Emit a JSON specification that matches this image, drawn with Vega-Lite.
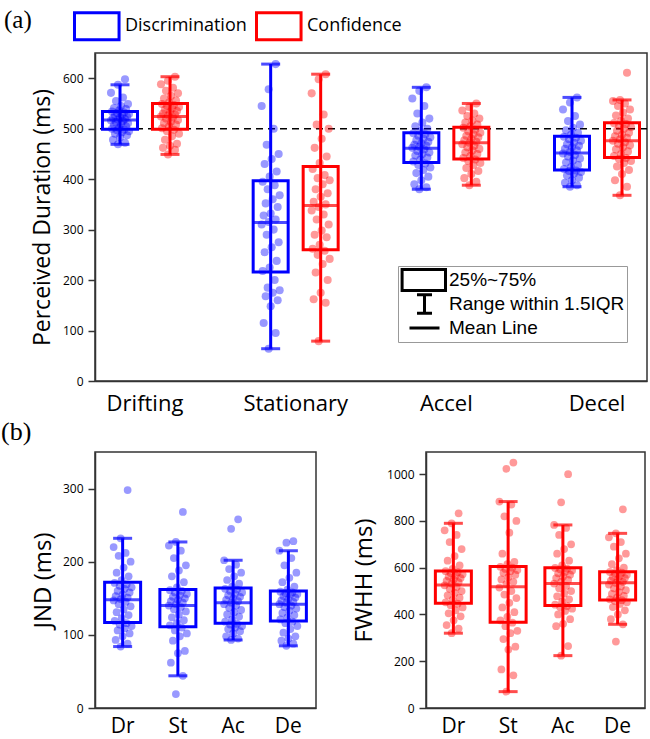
{
  "$schema": "https://vega.github.io/schema/vega-lite/v6.json",
  "background": "white",
  "padding": {"top": 10, "left": 0, "right": 0, "bottom": 0},
  "spacing": 3,
  "resolve": {"legend": {"stroke": "independent", "shape": "independent", "color": "independent"}},
  "config": {
    "view": {"stroke": "#333", "strokeWidth": 1.5},
    "axis": {"domainColor": "#333", "domainWidth": 1.5, "tickColor": "#333", "tickWidth": 1.5, "labelColor": "black", "titleColor": "black", "grid": false, "labelFont": "Open Sans", "titleFont": "Open Sans", "titleFontWeight": "normal", "labelOverlap": false},
    "axisX": {"ticks": false, "labelAngle": 0, "labelFontSize": 22, "title": null, "domain": true},
    "axisY": {"labelFontSize": 12, "labelPadding": 5},
    "title": {"font": "Liberation Serif", "fontWeight": "normal", "color": "black"}
  },
  "datasets": {
    "as": [
      {"c": "Drifting", "t": "Discrimination", "lo": 469, "q1": 499, "m": 517, "q3": 534, "hi": 587},
      {"c": "Drifting", "t": "Confidence", "lo": 449, "q1": 499, "m": 524, "q3": 550, "hi": 603},
      {"c": "Stationary", "t": "Discrimination", "lo": 64, "q1": 216, "m": 314, "q3": 397, "hi": 628},
      {"c": "Stationary", "t": "Confidence", "lo": 79, "q1": 260, "m": 348, "q3": 425, "hi": 608},
      {"c": "Accel", "t": "Discrimination", "lo": 380, "q1": 433, "m": 461, "q3": 492, "hi": 582},
      {"c": "Accel", "t": "Confidence", "lo": 388, "q1": 440, "m": 472, "q3": 503, "hi": 550},
      {"c": "Decel", "t": "Discrimination", "lo": 385, "q1": 418, "m": 452, "q3": 485, "hi": 562},
      {"c": "Decel", "t": "Confidence", "lo": 368, "q1": 443, "m": 476, "q3": 512, "hi": 557}
    ],
    "js": [
      {"c": "Dr", "lo": 84, "q1": 117, "m": 148, "q3": 172, "hi": 232},
      {"c": "St", "lo": 44, "q1": 111, "m": 140, "q3": 162, "hi": 227},
      {"c": "Ac", "lo": 93, "q1": 116, "m": 144, "q3": 164, "hi": 202},
      {"c": "De", "lo": 85, "q1": 119, "m": 142, "q3": 160, "hi": 215}
    ],
    "fs": [
      {"c": "Dr", "lo": 320, "q1": 448, "m": 526, "q3": 586, "hi": 790},
      {"c": "St", "lo": 70, "q1": 367, "m": 519, "q3": 605, "hi": 883},
      {"c": "Ac", "lo": 224, "q1": 438, "m": 533, "q3": 600, "hi": 783},
      {"c": "De", "lo": 358, "q1": 462, "m": 536, "q3": 583, "hi": 747}
    ],
    "leg": [{"k": "25%~75%"}, {"k": "Range within 1.5IQR"}, {"k": "Mean Line"}],
    "a": [
      {"c":"Drifting","t":"Discrimination","v":469},{"c":"Drifting","t":"Discrimination","v":472},{"c":"Drifting","t":"Discrimination","v":478},{"c":"Drifting","t":"Discrimination","v":483},{"c":"Drifting","t":"Discrimination","v":487},{"c":"Drifting","t":"Discrimination","v":490},{"c":"Drifting","t":"Discrimination","v":493},{"c":"Drifting","t":"Discrimination","v":495},{"c":"Drifting","t":"Discrimination","v":497},{"c":"Drifting","t":"Discrimination","v":498},
      {"c":"Drifting","t":"Discrimination","v":500},{"c":"Drifting","t":"Discrimination","v":502},{"c":"Drifting","t":"Discrimination","v":505},{"c":"Drifting","t":"Discrimination","v":507},{"c":"Drifting","t":"Discrimination","v":509},{"c":"Drifting","t":"Discrimination","v":511},{"c":"Drifting","t":"Discrimination","v":513},{"c":"Drifting","t":"Discrimination","v":515},{"c":"Drifting","t":"Discrimination","v":516},{"c":"Drifting","t":"Discrimination","v":518},
      {"c":"Drifting","t":"Discrimination","v":519},{"c":"Drifting","t":"Discrimination","v":521},{"c":"Drifting","t":"Discrimination","v":522},{"c":"Drifting","t":"Discrimination","v":524},{"c":"Drifting","t":"Discrimination","v":526},{"c":"Drifting","t":"Discrimination","v":527},{"c":"Drifting","t":"Discrimination","v":529},{"c":"Drifting","t":"Discrimination","v":531},{"c":"Drifting","t":"Discrimination","v":532},{"c":"Drifting","t":"Discrimination","v":534},
      {"c":"Drifting","t":"Discrimination","v":536},{"c":"Drifting","t":"Discrimination","v":539},{"c":"Drifting","t":"Discrimination","v":541},{"c":"Drifting","t":"Discrimination","v":545},{"c":"Drifting","t":"Discrimination","v":549},{"c":"Drifting","t":"Discrimination","v":555},{"c":"Drifting","t":"Discrimination","v":562},{"c":"Drifting","t":"Discrimination","v":571},{"c":"Drifting","t":"Discrimination","v":587},{"c":"Drifting","t":"Discrimination","v":598},
      {"c":"Drifting","t":"Confidence","v":449},{"c":"Drifting","t":"Confidence","v":458},{"c":"Drifting","t":"Confidence","v":462},{"c":"Drifting","t":"Confidence","v":466},{"c":"Drifting","t":"Confidence","v":470},{"c":"Drifting","t":"Confidence","v":478},{"c":"Drifting","t":"Confidence","v":485},{"c":"Drifting","t":"Confidence","v":490},{"c":"Drifting","t":"Confidence","v":495},{"c":"Drifting","t":"Confidence","v":498},
      {"c":"Drifting","t":"Confidence","v":501},{"c":"Drifting","t":"Confidence","v":505},{"c":"Drifting","t":"Confidence","v":508},{"c":"Drifting","t":"Confidence","v":511},{"c":"Drifting","t":"Confidence","v":514},{"c":"Drifting","t":"Confidence","v":517},{"c":"Drifting","t":"Confidence","v":520},{"c":"Drifting","t":"Confidence","v":522},{"c":"Drifting","t":"Confidence","v":524},{"c":"Drifting","t":"Confidence","v":526},
      {"c":"Drifting","t":"Confidence","v":528},{"c":"Drifting","t":"Confidence","v":530},{"c":"Drifting","t":"Confidence","v":533},{"c":"Drifting","t":"Confidence","v":535},{"c":"Drifting","t":"Confidence","v":538},{"c":"Drifting","t":"Confidence","v":540},{"c":"Drifting","t":"Confidence","v":543},{"c":"Drifting","t":"Confidence","v":545},{"c":"Drifting","t":"Confidence","v":547},{"c":"Drifting","t":"Confidence","v":549},
      {"c":"Drifting","t":"Confidence","v":552},{"c":"Drifting","t":"Confidence","v":556},{"c":"Drifting","t":"Confidence","v":560},{"c":"Drifting","t":"Confidence","v":565},{"c":"Drifting","t":"Confidence","v":570},{"c":"Drifting","t":"Confidence","v":575},{"c":"Drifting","t":"Confidence","v":581},{"c":"Drifting","t":"Confidence","v":588},{"c":"Drifting","t":"Confidence","v":595},{"c":"Drifting","t":"Confidence","v":603},
      {"c":"Stationary","t":"Discrimination","v":64},{"c":"Stationary","t":"Discrimination","v":95},{"c":"Stationary","t":"Discrimination","v":115},{"c":"Stationary","t":"Discrimination","v":148},{"c":"Stationary","t":"Discrimination","v":160},{"c":"Stationary","t":"Discrimination","v":168},{"c":"Stationary","t":"Discrimination","v":175},{"c":"Stationary","t":"Discrimination","v":180},{"c":"Stationary","t":"Discrimination","v":185},{"c":"Stationary","t":"Discrimination","v":200},
      {"c":"Stationary","t":"Discrimination","v":218},{"c":"Stationary","t":"Discrimination","v":225},{"c":"Stationary","t":"Discrimination","v":238},{"c":"Stationary","t":"Discrimination","v":255},{"c":"Stationary","t":"Discrimination","v":265},{"c":"Stationary","t":"Discrimination","v":275},{"c":"Stationary","t":"Discrimination","v":290},{"c":"Stationary","t":"Discrimination","v":300},{"c":"Stationary","t":"Discrimination","v":310},{"c":"Stationary","t":"Discrimination","v":315},
      {"c":"Stationary","t":"Discrimination","v":320},{"c":"Stationary","t":"Discrimination","v":328},{"c":"Stationary","t":"Discrimination","v":332},{"c":"Stationary","t":"Discrimination","v":345},{"c":"Stationary","t":"Discrimination","v":352},{"c":"Stationary","t":"Discrimination","v":360},{"c":"Stationary","t":"Discrimination","v":368},{"c":"Stationary","t":"Discrimination","v":380},{"c":"Stationary","t":"Discrimination","v":388},{"c":"Stationary","t":"Discrimination","v":395},
      {"c":"Stationary","t":"Discrimination","v":405},{"c":"Stationary","t":"Discrimination","v":415},{"c":"Stationary","t":"Discrimination","v":430},{"c":"Stationary","t":"Discrimination","v":440},{"c":"Stationary","t":"Discrimination","v":450},{"c":"Stationary","t":"Discrimination","v":468},{"c":"Stationary","t":"Discrimination","v":500},{"c":"Stationary","t":"Discrimination","v":545},{"c":"Stationary","t":"Discrimination","v":578},{"c":"Stationary","t":"Discrimination","v":628},
      {"c":"Stationary","t":"Confidence","v":79},{"c":"Stationary","t":"Confidence","v":155},{"c":"Stationary","t":"Confidence","v":162},{"c":"Stationary","t":"Confidence","v":175},{"c":"Stationary","t":"Confidence","v":200},{"c":"Stationary","t":"Confidence","v":215},{"c":"Stationary","t":"Confidence","v":232},{"c":"Stationary","t":"Confidence","v":242},{"c":"Stationary","t":"Confidence","v":250},{"c":"Stationary","t":"Confidence","v":258},
      {"c":"Stationary","t":"Confidence","v":262},{"c":"Stationary","t":"Confidence","v":270},{"c":"Stationary","t":"Confidence","v":285},{"c":"Stationary","t":"Confidence","v":290},{"c":"Stationary","t":"Confidence","v":298},{"c":"Stationary","t":"Confidence","v":310},{"c":"Stationary","t":"Confidence","v":320},{"c":"Stationary","t":"Confidence","v":330},{"c":"Stationary","t":"Confidence","v":338},{"c":"Stationary","t":"Confidence","v":345},
      {"c":"Stationary","t":"Confidence","v":350},{"c":"Stationary","t":"Confidence","v":355},{"c":"Stationary","t":"Confidence","v":365},{"c":"Stationary","t":"Confidence","v":372},{"c":"Stationary","t":"Confidence","v":380},{"c":"Stationary","t":"Confidence","v":390},{"c":"Stationary","t":"Confidence","v":398},{"c":"Stationary","t":"Confidence","v":402},{"c":"Stationary","t":"Confidence","v":408},{"c":"Stationary","t":"Confidence","v":420},
      {"c":"Stationary","t":"Confidence","v":432},{"c":"Stationary","t":"Confidence","v":445},{"c":"Stationary","t":"Confidence","v":462},{"c":"Stationary","t":"Confidence","v":480},{"c":"Stationary","t":"Confidence","v":500},{"c":"Stationary","t":"Confidence","v":508},{"c":"Stationary","t":"Confidence","v":528},{"c":"Stationary","t":"Confidence","v":570},{"c":"Stationary","t":"Confidence","v":598},{"c":"Stationary","t":"Confidence","v":608},
      {"c":"Accel","t":"Discrimination","v":380},{"c":"Accel","t":"Discrimination","v":384},{"c":"Accel","t":"Discrimination","v":390},{"c":"Accel","t":"Discrimination","v":398},{"c":"Accel","t":"Discrimination","v":405},{"c":"Accel","t":"Discrimination","v":412},{"c":"Accel","t":"Discrimination","v":418},{"c":"Accel","t":"Discrimination","v":423},{"c":"Accel","t":"Discrimination","v":428},{"c":"Accel","t":"Discrimination","v":431},
      {"c":"Accel","t":"Discrimination","v":435},{"c":"Accel","t":"Discrimination","v":439},{"c":"Accel","t":"Discrimination","v":443},{"c":"Accel","t":"Discrimination","v":447},{"c":"Accel","t":"Discrimination","v":450},{"c":"Accel","t":"Discrimination","v":453},{"c":"Accel","t":"Discrimination","v":456},{"c":"Accel","t":"Discrimination","v":459},{"c":"Accel","t":"Discrimination","v":462},{"c":"Accel","t":"Discrimination","v":464},
      {"c":"Accel","t":"Discrimination","v":466},{"c":"Accel","t":"Discrimination","v":468},{"c":"Accel","t":"Discrimination","v":471},{"c":"Accel","t":"Discrimination","v":474},{"c":"Accel","t":"Discrimination","v":477},{"c":"Accel","t":"Discrimination","v":480},{"c":"Accel","t":"Discrimination","v":483},{"c":"Accel","t":"Discrimination","v":486},{"c":"Accel","t":"Discrimination","v":489},{"c":"Accel","t":"Discrimination","v":491},
      {"c":"Accel","t":"Discrimination","v":495},{"c":"Accel","t":"Discrimination","v":500},{"c":"Accel","t":"Discrimination","v":505},{"c":"Accel","t":"Discrimination","v":512},{"c":"Accel","t":"Discrimination","v":520},{"c":"Accel","t":"Discrimination","v":530},{"c":"Accel","t":"Discrimination","v":545},{"c":"Accel","t":"Discrimination","v":560},{"c":"Accel","t":"Discrimination","v":575},{"c":"Accel","t":"Discrimination","v":582},
      {"c":"Accel","t":"Confidence","v":388},{"c":"Accel","t":"Confidence","v":395},{"c":"Accel","t":"Confidence","v":402},{"c":"Accel","t":"Confidence","v":410},{"c":"Accel","t":"Confidence","v":416},{"c":"Accel","t":"Confidence","v":422},{"c":"Accel","t":"Confidence","v":428},{"c":"Accel","t":"Confidence","v":432},{"c":"Accel","t":"Confidence","v":436},{"c":"Accel","t":"Confidence","v":439},
      {"c":"Accel","t":"Confidence","v":442},{"c":"Accel","t":"Confidence","v":446},{"c":"Accel","t":"Confidence","v":450},{"c":"Accel","t":"Confidence","v":453},{"c":"Accel","t":"Confidence","v":457},{"c":"Accel","t":"Confidence","v":460},{"c":"Accel","t":"Confidence","v":463},{"c":"Accel","t":"Confidence","v":466},{"c":"Accel","t":"Confidence","v":469},{"c":"Accel","t":"Confidence","v":472},
      {"c":"Accel","t":"Confidence","v":474},{"c":"Accel","t":"Confidence","v":477},{"c":"Accel","t":"Confidence","v":480},{"c":"Accel","t":"Confidence","v":483},{"c":"Accel","t":"Confidence","v":486},{"c":"Accel","t":"Confidence","v":489},{"c":"Accel","t":"Confidence","v":492},{"c":"Accel","t":"Confidence","v":495},{"c":"Accel","t":"Confidence","v":498},{"c":"Accel","t":"Confidence","v":502},
      {"c":"Accel","t":"Confidence","v":505},{"c":"Accel","t":"Confidence","v":508},{"c":"Accel","t":"Confidence","v":512},{"c":"Accel","t":"Confidence","v":516},{"c":"Accel","t":"Confidence","v":520},{"c":"Accel","t":"Confidence","v":525},{"c":"Accel","t":"Confidence","v":530},{"c":"Accel","t":"Confidence","v":536},{"c":"Accel","t":"Confidence","v":543},{"c":"Accel","t":"Confidence","v":550},
      {"c":"Decel","t":"Discrimination","v":385},{"c":"Decel","t":"Discrimination","v":388},{"c":"Decel","t":"Discrimination","v":393},{"c":"Decel","t":"Discrimination","v":398},{"c":"Decel","t":"Discrimination","v":403},{"c":"Decel","t":"Discrimination","v":407},{"c":"Decel","t":"Discrimination","v":411},{"c":"Decel","t":"Discrimination","v":414},{"c":"Decel","t":"Discrimination","v":416},{"c":"Decel","t":"Discrimination","v":417},
      {"c":"Decel","t":"Discrimination","v":420},{"c":"Decel","t":"Discrimination","v":424},{"c":"Decel","t":"Discrimination","v":428},{"c":"Decel","t":"Discrimination","v":433},{"c":"Decel","t":"Discrimination","v":437},{"c":"Decel","t":"Discrimination","v":441},{"c":"Decel","t":"Discrimination","v":445},{"c":"Decel","t":"Discrimination","v":448},{"c":"Decel","t":"Discrimination","v":451},{"c":"Decel","t":"Discrimination","v":454},
      {"c":"Decel","t":"Discrimination","v":457},{"c":"Decel","t":"Discrimination","v":460},{"c":"Decel","t":"Discrimination","v":463},{"c":"Decel","t":"Discrimination","v":466},{"c":"Decel","t":"Discrimination","v":469},{"c":"Decel","t":"Discrimination","v":472},{"c":"Decel","t":"Discrimination","v":476},{"c":"Decel","t":"Discrimination","v":479},{"c":"Decel","t":"Discrimination","v":482},{"c":"Decel","t":"Discrimination","v":484},
      {"c":"Decel","t":"Discrimination","v":488},{"c":"Decel","t":"Discrimination","v":492},{"c":"Decel","t":"Discrimination","v":497},{"c":"Decel","t":"Discrimination","v":502},{"c":"Decel","t":"Discrimination","v":508},{"c":"Decel","t":"Discrimination","v":515},{"c":"Decel","t":"Discrimination","v":525},{"c":"Decel","t":"Discrimination","v":538},{"c":"Decel","t":"Discrimination","v":552},{"c":"Decel","t":"Discrimination","v":562},
      {"c":"Decel","t":"Confidence","v":368},{"c":"Decel","t":"Confidence","v":385},{"c":"Decel","t":"Confidence","v":398},{"c":"Decel","t":"Confidence","v":410},{"c":"Decel","t":"Confidence","v":418},{"c":"Decel","t":"Confidence","v":425},{"c":"Decel","t":"Confidence","v":432},{"c":"Decel","t":"Confidence","v":436},{"c":"Decel","t":"Confidence","v":440},{"c":"Decel","t":"Confidence","v":442},
      {"c":"Decel","t":"Confidence","v":446},{"c":"Decel","t":"Confidence","v":450},{"c":"Decel","t":"Confidence","v":455},{"c":"Decel","t":"Confidence","v":459},{"c":"Decel","t":"Confidence","v":463},{"c":"Decel","t":"Confidence","v":467},{"c":"Decel","t":"Confidence","v":470},{"c":"Decel","t":"Confidence","v":473},{"c":"Decel","t":"Confidence","v":476},{"c":"Decel","t":"Confidence","v":479},
      {"c":"Decel","t":"Confidence","v":482},{"c":"Decel","t":"Confidence","v":485},{"c":"Decel","t":"Confidence","v":488},{"c":"Decel","t":"Confidence","v":492},{"c":"Decel","t":"Confidence","v":496},{"c":"Decel","t":"Confidence","v":500},{"c":"Decel","t":"Confidence","v":503},{"c":"Decel","t":"Confidence","v":506},{"c":"Decel","t":"Confidence","v":509},{"c":"Decel","t":"Confidence","v":511},
      {"c":"Decel","t":"Confidence","v":515},{"c":"Decel","t":"Confidence","v":520},{"c":"Decel","t":"Confidence","v":526},{"c":"Decel","t":"Confidence","v":532},{"c":"Decel","t":"Confidence","v":538},{"c":"Decel","t":"Confidence","v":545},{"c":"Decel","t":"Confidence","v":550},{"c":"Decel","t":"Confidence","v":555},{"c":"Decel","t":"Confidence","v":557},{"c":"Decel","t":"Confidence","v":611}
    ],
    "j": [
      {"c":"Dr","v":84},{"c":"Dr","v":88},{"c":"Dr","v":93},{"c":"Dr","v":98},{"c":"Dr","v":102},{"c":"Dr","v":106},{"c":"Dr","v":109},{"c":"Dr","v":112},{"c":"Dr","v":114},{"c":"Dr","v":116},
      {"c":"Dr","v":119},{"c":"Dr","v":123},{"c":"Dr","v":127},{"c":"Dr","v":131},{"c":"Dr","v":135},{"c":"Dr","v":139},{"c":"Dr","v":142},{"c":"Dr","v":145},{"c":"Dr","v":147},{"c":"Dr","v":149},
      {"c":"Dr","v":151},{"c":"Dr","v":153},{"c":"Dr","v":155},{"c":"Dr","v":158},{"c":"Dr","v":160},{"c":"Dr","v":163},{"c":"Dr","v":165},{"c":"Dr","v":167},{"c":"Dr","v":169},{"c":"Dr","v":171},
      {"c":"Dr","v":175},{"c":"Dr","v":180},{"c":"Dr","v":185},{"c":"Dr","v":192},{"c":"Dr","v":200},{"c":"Dr","v":208},{"c":"Dr","v":212},{"c":"Dr","v":220},{"c":"Dr","v":232},{"c":"Dr","v":298},
      {"c":"St","v":19},{"c":"St","v":44},{"c":"St","v":62},{"c":"St","v":75},{"c":"St","v":78},{"c":"St","v":92},{"c":"St","v":98},{"c":"St","v":102},{"c":"St","v":106},{"c":"St","v":110},
      {"c":"St","v":113},{"c":"St","v":116},{"c":"St","v":120},{"c":"St","v":124},{"c":"St","v":128},{"c":"St","v":132},{"c":"St","v":135},{"c":"St","v":138},{"c":"St","v":140},{"c":"St","v":142},
      {"c":"St","v":144},{"c":"St","v":146},{"c":"St","v":148},{"c":"St","v":150},{"c":"St","v":152},{"c":"St","v":154},{"c":"St","v":156},{"c":"St","v":158},{"c":"St","v":160},{"c":"St","v":161},
      {"c":"St","v":165},{"c":"St","v":172},{"c":"St","v":180},{"c":"St","v":188},{"c":"St","v":195},{"c":"St","v":205},{"c":"St","v":215},{"c":"St","v":222},{"c":"St","v":227},{"c":"St","v":268},
      {"c":"Ac","v":93},{"c":"Ac","v":95},{"c":"Ac","v":98},{"c":"Ac","v":102},{"c":"Ac","v":105},{"c":"Ac","v":108},{"c":"Ac","v":110},{"c":"Ac","v":112},{"c":"Ac","v":114},{"c":"Ac","v":115},
      {"c":"Ac","v":118},{"c":"Ac","v":121},{"c":"Ac","v":125},{"c":"Ac","v":128},{"c":"Ac","v":131},{"c":"Ac","v":134},{"c":"Ac","v":137},{"c":"Ac","v":140},{"c":"Ac","v":142},{"c":"Ac","v":144},
      {"c":"Ac","v":146},{"c":"Ac","v":148},{"c":"Ac","v":150},{"c":"Ac","v":152},{"c":"Ac","v":154},{"c":"Ac","v":156},{"c":"Ac","v":158},{"c":"Ac","v":160},{"c":"Ac","v":162},{"c":"Ac","v":163},
      {"c":"Ac","v":166},{"c":"Ac","v":170},{"c":"Ac","v":175},{"c":"Ac","v":180},{"c":"Ac","v":185},{"c":"Ac","v":190},{"c":"Ac","v":196},{"c":"Ac","v":202},{"c":"Ac","v":245},{"c":"Ac","v":258},
      {"c":"De","v":85},{"c":"De","v":88},{"c":"De","v":92},{"c":"De","v":95},{"c":"De","v":98},{"c":"De","v":103},{"c":"De","v":108},{"c":"De","v":112},{"c":"De","v":116},{"c":"De","v":118},
      {"c":"De","v":121},{"c":"De","v":124},{"c":"De","v":127},{"c":"De","v":130},{"c":"De","v":133},{"c":"De","v":136},{"c":"De","v":138},{"c":"De","v":140},{"c":"De","v":142},{"c":"De","v":144},
      {"c":"De","v":145},{"c":"De","v":147},{"c":"De","v":149},{"c":"De","v":151},{"c":"De","v":153},{"c":"De","v":155},{"c":"De","v":156},{"c":"De","v":157},{"c":"De","v":158},{"c":"De","v":159},
      {"c":"De","v":162},{"c":"De","v":166},{"c":"De","v":172},{"c":"De","v":178},{"c":"De","v":185},{"c":"De","v":195},{"c":"De","v":205},{"c":"De","v":215},{"c":"De","v":226},{"c":"De","v":228}
    ],
    "f": [
      {"c":"Dr","v":320},{"c":"Dr","v":340},{"c":"Dr","v":355},{"c":"Dr","v":375},{"c":"Dr","v":392},{"c":"Dr","v":405},{"c":"Dr","v":418},{"c":"Dr","v":430},{"c":"Dr","v":440},{"c":"Dr","v":446},
      {"c":"Dr","v":452},{"c":"Dr","v":462},{"c":"Dr","v":472},{"c":"Dr","v":482},{"c":"Dr","v":492},{"c":"Dr","v":500},{"c":"Dr","v":510},{"c":"Dr","v":518},{"c":"Dr","v":525},{"c":"Dr","v":532},
      {"c":"Dr","v":538},{"c":"Dr","v":544},{"c":"Dr","v":550},{"c":"Dr","v":556},{"c":"Dr","v":562},{"c":"Dr","v":567},{"c":"Dr","v":572},{"c":"Dr","v":577},{"c":"Dr","v":581},{"c":"Dr","v":585},
      {"c":"Dr","v":595},{"c":"Dr","v":610},{"c":"Dr","v":630},{"c":"Dr","v":650},{"c":"Dr","v":680},{"c":"Dr","v":710},{"c":"Dr","v":740},{"c":"Dr","v":760},{"c":"Dr","v":790},{"c":"Dr","v":833},
      {"c":"St","v":70},{"c":"St","v":140},{"c":"St","v":165},{"c":"St","v":250},{"c":"St","v":262},{"c":"St","v":295},{"c":"St","v":320},{"c":"St","v":330},{"c":"St","v":350},{"c":"St","v":365},
      {"c":"St","v":375},{"c":"St","v":390},{"c":"St","v":410},{"c":"St","v":430},{"c":"St","v":450},{"c":"St","v":470},{"c":"St","v":485},{"c":"St","v":500},{"c":"St","v":515},{"c":"St","v":530},
      {"c":"St","v":540},{"c":"St","v":550},{"c":"St","v":560},{"c":"St","v":570},{"c":"St","v":578},{"c":"St","v":585},{"c":"St","v":590},{"c":"St","v":595},{"c":"St","v":600},{"c":"St","v":604},
      {"c":"St","v":615},{"c":"St","v":625},{"c":"St","v":660},{"c":"St","v":750},{"c":"St","v":800},{"c":"St","v":820},{"c":"St","v":870},{"c":"St","v":883},{"c":"St","v":1023},{"c":"St","v":1050},
      {"c":"Ac","v":224},{"c":"Ac","v":265},{"c":"Ac","v":350},{"c":"Ac","v":360},{"c":"Ac","v":380},{"c":"Ac","v":400},{"c":"Ac","v":415},{"c":"Ac","v":425},{"c":"Ac","v":432},{"c":"Ac","v":436},
      {"c":"Ac","v":442},{"c":"Ac","v":455},{"c":"Ac","v":465},{"c":"Ac","v":478},{"c":"Ac","v":490},{"c":"Ac","v":500},{"c":"Ac","v":512},{"c":"Ac","v":522},{"c":"Ac","v":532},{"c":"Ac","v":540},
      {"c":"Ac","v":548},{"c":"Ac","v":556},{"c":"Ac","v":563},{"c":"Ac","v":570},{"c":"Ac","v":576},{"c":"Ac","v":582},{"c":"Ac","v":588},{"c":"Ac","v":593},{"c":"Ac","v":596},{"c":"Ac","v":599},
      {"c":"Ac","v":610},{"c":"Ac","v":630},{"c":"Ac","v":660},{"c":"Ac","v":680},{"c":"Ac","v":700},{"c":"Ac","v":740},{"c":"Ac","v":770},{"c":"Ac","v":783},{"c":"Ac","v":880},{"c":"Ac","v":1000},
      {"c":"De","v":284},{"c":"De","v":358},{"c":"De","v":380},{"c":"De","v":400},{"c":"De","v":418},{"c":"De","v":432},{"c":"De","v":445},{"c":"De","v":452},{"c":"De","v":458},{"c":"De","v":461},
      {"c":"De","v":465},{"c":"De","v":472},{"c":"De","v":480},{"c":"De","v":488},{"c":"De","v":496},{"c":"De","v":504},{"c":"De","v":512},{"c":"De","v":520},{"c":"De","v":528},{"c":"De","v":535},
      {"c":"De","v":540},{"c":"De","v":545},{"c":"De","v":550},{"c":"De","v":555},{"c":"De","v":560},{"c":"De","v":565},{"c":"De","v":570},{"c":"De","v":575},{"c":"De","v":579},{"c":"De","v":582},
      {"c":"De","v":590},{"c":"De","v":600},{"c":"De","v":615},{"c":"De","v":640},{"c":"De","v":660},{"c":"De","v":690},{"c":"De","v":710},{"c":"De","v":730},{"c":"De","v":747},{"c":"De","v":850}
    ]
  },
  "vconcat": [
    {
      "width": 552,
      "height": 328,
      "layer": [
        {
          "data": {"values": [{"ref": 500}]},
          "mark": {"type": "rule", "strokeDash": [7, 5], "strokeWidth": 1.5, "color": "black"},
          "encoding": {"y": {"field": "ref", "type": "quantitative", "title": "Perceived Duration (ms)"}}
        },
        {
          "data": {"name": "a"},
          "transform": [
            {"window": [{"op": "row_number", "as": "r"}], "groupby": ["c", "t"]},
            {"calculate": "(datum.t === 'Discrimination' ? -25 : 25) + ((datum.r * 7) % 19) - 9", "as": "off"}
          ],
          "mark": {"type": "circle", "size": 65, "opacity": 0.4},
          "encoding": {
            "x": {"field": "c", "type": "nominal", "sort": ["Drifting", "Stationary", "Accel", "Decel"], "scale": {"domain": ["Drifting", "Stationary", "Accel", "Decel"], "paddingInner": 0.3363, "paddingOuter": 0}, "axis": {"labelPadding": 12}},
            "xOffset": {"field": "off", "type": "quantitative", "scale": {"domain": [-50, 50], "range": [0, 100]}},
            "y": {"field": "v", "type": "quantitative", "title": "Perceived Duration (ms)", "scale": {"domain": [0, 650], "nice": false}, "axis": {"values": [0, 50, 100, 150, 200, 250, 300, 350, 400, 450, 500, 550, 600], "labelExpr": "datum.value % 100 === 0 ? datum.label : ''", "tickSize": {"condition": {"test": "datum.value % 100 === 0", "value": 7}, "value": 4}, "titleFontSize": 23, "titlePadding": 8}},
            "color": {"field": "t", "type": "nominal", "scale": {"domain": ["Confidence", "Discrimination"], "range": ["#ff0000", "#0000ff"]}, "legend": null}
          }
        },
        {
          "data": {"name": "as"},
          "mark": {"type": "bar", "filled": false, "strokeWidth": 3, "width": 35},
          "encoding": {
            "x": {"field": "c", "type": "nominal"},
            "xOffset": {"field": "t", "type": "nominal", "scale": {"domain": ["Discrimination", "Confidence"], "paddingInner": 0, "paddingOuter": 0}},
            "y": {"field": "q1", "type": "quantitative", "title": "Perceived Duration (ms)"},
            "y2": {"field": "q3"},
            "stroke": {"field": "t", "type": "nominal", "scale": {"domain": ["Discrimination", "Confidence"], "range": ["#0000ff", "#ff0000"]},
              "legend": {"title": "(a)", "titleOrient": "left", "titleAnchor": "middle", "titleBaseline": "alphabetic", "titleFont": "Liberation Serif", "titleFontSize": 25, "titleFontWeight": "normal", "titleColor": "black", "titlePadding": 41,
                "orient": "none", "legendX": -91, "legendY": -42, "direction": "horizontal", "padding": 0,
                "symbolType": "M-1,-1H2.3V1H-1Z", "symbolSize": 729, "symbolStrokeWidth": 3, "symbolFillColor": "transparent",
                "labelFont": "Open Sans", "labelFontSize": 18, "labelOffset": 22, "columnPadding": 3, "labelLimit": 300,
                "encode": {"labels": {"fill": {"condition": {"test": "datum.label === 'Discrimination'", "value": "#0000ff"}, "value": "#ff0000"}}, "symbols": {"fill": {"value": "transparent"}, "strokeWidth": {"value": 3}}}}}
          }
        },
        {
          "data": {"name": "as"},
          "mark": {"type": "rule", "strokeWidth": 3},
          "encoding": {
            "x": {"field": "c", "type": "nominal"},
            "xOffset": {"field": "t", "type": "nominal", "scale": {"domain": ["Discrimination", "Confidence"], "paddingInner": 0, "paddingOuter": 0}},
            "y": {"field": "lo", "type": "quantitative", "title": "Perceived Duration (ms)"},
            "y2": {"field": "hi"},
            "color": {"field": "t", "type": "nominal", "legend": null}
          }
        },
        {
          "data": {"name": "as"},
          "mark": {"type": "tick", "thickness": 3, "size": 19},
          "encoding": {
            "x": {"field": "c", "type": "nominal"},
            "xOffset": {"field": "t", "type": "nominal", "scale": {"domain": ["Discrimination", "Confidence"], "paddingInner": 0, "paddingOuter": 0}},
            "y": {"field": "lo", "type": "quantitative", "title": "Perceived Duration (ms)"},
            "color": {"field": "t", "type": "nominal", "legend": null}
          }
        },
        {
          "data": {"name": "as"},
          "mark": {"type": "tick", "thickness": 3, "size": 19},
          "encoding": {
            "x": {"field": "c", "type": "nominal"},
            "xOffset": {"field": "t", "type": "nominal", "scale": {"domain": ["Discrimination", "Confidence"], "paddingInner": 0, "paddingOuter": 0}},
            "y": {"field": "hi", "type": "quantitative", "title": "Perceived Duration (ms)"},
            "color": {"field": "t", "type": "nominal", "legend": null}
          }
        },
        {
          "data": {"name": "as"},
          "mark": {"type": "tick", "thickness": 3, "size": 35},
          "encoding": {
            "x": {"field": "c", "type": "nominal"},
            "xOffset": {"field": "t", "type": "nominal", "scale": {"domain": ["Discrimination", "Confidence"], "paddingInner": 0, "paddingOuter": 0}},
            "y": {"field": "m", "type": "quantitative", "title": "Perceived Duration (ms)"},
            "color": {"field": "t", "type": "nominal", "legend": null}
          }
        },
        {
          "data": {"name": "leg"},
          "mark": {"type": "point", "filled": false, "opacity": 0},
          "encoding": {
            "shape": {"field": "k", "type": "nominal", "scale": {"domain": ["25%~75%", "Range within 1.5IQR", "Mean Line"], "range": ["M-0.925,-1.31H4.5V1.31H-0.925Z", "M0.94,-1.16H2.81M1.875,-1.16V1.16M0.94,1.16H2.81", "M0,0H3.75"]},
              "legend": {"title": null, "orient": "none", "legendX": 303, "legendY": 213, "direction": "vertical", "padding": 2,
                "strokeColor": "#999", "symbolSize": 256, "symbolStrokeColor": "black", "symbolStrokeWidth": 3, "symbolOpacity": 1, "symbolFillColor": "transparent",
                "labelFont": "Liberation Sans", "labelFontSize": 19, "labelOffset": 30, "rowPadding": 0, "clipHeight": 24, "labelLimit": 300, "labelColor": "black",
                "encode": {"symbols": {"opacity": {"value": 1}, "stroke": {"value": "black"}, "fill": {"value": "transparent"}, "strokeWidth": {"value": 3}}}}}
          }
        }
      ],
      "resolve": {"scale": {"xOffset": "independent"}}
    },
    {
      "hconcat": [
        {
          "width": 221,
          "height": 256,
          "title": {"text": "(b)", "fontSize": 26, "anchor": "start", "frame": "group", "dx": -94, "offset": 7},
          "layer": [
            {
              "data": {"name": "j"},
              "transform": [
                {"window": [{"op": "row_number", "as": "r"}], "groupby": ["c"]},
                {"calculate": "((datum.r * 7) % 19) - 9", "as": "off"}
              ],
              "mark": {"type": "circle", "size": 60, "opacity": 0.4, "color": "#0000ff"},
              "encoding": {
                "x": {"field": "c", "type": "nominal", "scale": {"domain": ["Dr", "St", "Ac", "De"], "paddingInner": 0, "paddingOuter": 0}, "axis": {"labelPadding": 7, "labelFontSize": 21}},
                "xOffset": {"field": "off", "type": "quantitative", "scale": {"domain": [-27.625, 27.625], "range": [0, 55.25]}},
                "y": {"field": "v", "type": "quantitative", "title": "JND (ms)", "scale": {"domain": [0, 350], "nice": false}, "axis": {"values": [0, 25, 50, 75, 100, 125, 150, 175, 200, 225, 250, 275, 300, 325, 350], "labelExpr": "datum.value % 50 === 0 ? datum.label : ''", "tickSize": {"condition": {"test": "datum.value % 50 === 0", "value": 7}, "value": 4}, "titleFontSize": 24, "titlePadding": 7}}
              }
            },
            {
              "data": {"name": "js"},
              "mark": {"type": "bar", "filled": false, "strokeWidth": 3, "width": 36, "stroke": "#0000ff"},
              "encoding": {"x": {"field": "c", "type": "nominal"}, "y": {"field": "q1", "type": "quantitative", "title": "JND (ms)"}, "y2": {"field": "q3"}}
            },
            {
              "data": {"name": "js"},
              "mark": {"type": "rule", "strokeWidth": 3, "color": "#0000ff"},
              "encoding": {"x": {"field": "c", "type": "nominal"}, "y": {"field": "lo", "type": "quantitative", "title": "JND (ms)"}, "y2": {"field": "hi"}}
            },
            {
              "data": {"name": "js"},
              "mark": {"type": "tick", "thickness": 3, "size": 19, "color": "#0000ff"},
              "encoding": {"x": {"field": "c", "type": "nominal"}, "y": {"field": "lo", "type": "quantitative", "title": "JND (ms)"}}
            },
            {
              "data": {"name": "js"},
              "mark": {"type": "tick", "thickness": 3, "size": 19, "color": "#0000ff"},
              "encoding": {"x": {"field": "c", "type": "nominal"}, "y": {"field": "hi", "type": "quantitative", "title": "JND (ms)"}}
            },
            {
              "data": {"name": "js"},
              "mark": {"type": "tick", "thickness": 3, "size": 36, "color": "#0000ff"},
              "encoding": {"x": {"field": "c", "type": "nominal"}, "y": {"field": "m", "type": "quantitative", "title": "JND (ms)"}}
            }
          ]
        },
        {
          "width": 219,
          "height": 256,
          "layer": [
            {
              "data": {"name": "f"},
              "transform": [
                {"window": [{"op": "row_number", "as": "r"}], "groupby": ["c"]},
                {"calculate": "((datum.r * 7) % 19) - 9", "as": "off"}
              ],
              "mark": {"type": "circle", "size": 60, "opacity": 0.4, "color": "#ff0000"},
              "encoding": {
                "x": {"field": "c", "type": "nominal", "scale": {"domain": ["Dr", "St", "Ac", "De"], "paddingInner": 0, "paddingOuter": 0}, "axis": {"labelPadding": 7, "labelFontSize": 21}},
                "xOffset": {"field": "off", "type": "quantitative", "scale": {"domain": [-27.375, 27.375], "range": [0, 54.75]}},
                "y": {"field": "v", "type": "quantitative", "title": "FWHH (ms)", "scale": {"domain": [0, 1095], "nice": false}, "axis": {"values": [0, 100, 200, 300, 400, 500, 600, 700, 800, 900, 1000], "format": "d", "labelExpr": "datum.value % 200 === 0 ? datum.label : ''", "tickSize": {"condition": {"test": "datum.value % 200 === 0", "value": 7}, "value": 4}, "titleFontSize": 24, "titlePadding": 10}}
              }
            },
            {
              "data": {"name": "fs"},
              "mark": {"type": "bar", "filled": false, "strokeWidth": 3, "width": 36, "stroke": "#ff0000"},
              "encoding": {"x": {"field": "c", "type": "nominal"}, "y": {"field": "q1", "type": "quantitative", "title": "FWHH (ms)"}, "y2": {"field": "q3"}}
            },
            {
              "data": {"name": "fs"},
              "mark": {"type": "rule", "strokeWidth": 3, "color": "#ff0000"},
              "encoding": {"x": {"field": "c", "type": "nominal"}, "y": {"field": "lo", "type": "quantitative", "title": "FWHH (ms)"}, "y2": {"field": "hi"}}
            },
            {
              "data": {"name": "fs"},
              "mark": {"type": "tick", "thickness": 3, "size": 19, "color": "#ff0000"},
              "encoding": {"x": {"field": "c", "type": "nominal"}, "y": {"field": "lo", "type": "quantitative", "title": "FWHH (ms)"}}
            },
            {
              "data": {"name": "fs"},
              "mark": {"type": "tick", "thickness": 3, "size": 19, "color": "#ff0000"},
              "encoding": {"x": {"field": "c", "type": "nominal"}, "y": {"field": "hi", "type": "quantitative", "title": "FWHH (ms)"}}
            },
            {
              "data": {"name": "fs"},
              "mark": {"type": "tick", "thickness": 3, "size": 36, "color": "#ff0000"},
              "encoding": {"x": {"field": "c", "type": "nominal"}, "y": {"field": "m", "type": "quantitative", "title": "FWHH (ms)"}}
            }
          ]
        }
      ],
      "spacing": 34
    }
  ]
}
